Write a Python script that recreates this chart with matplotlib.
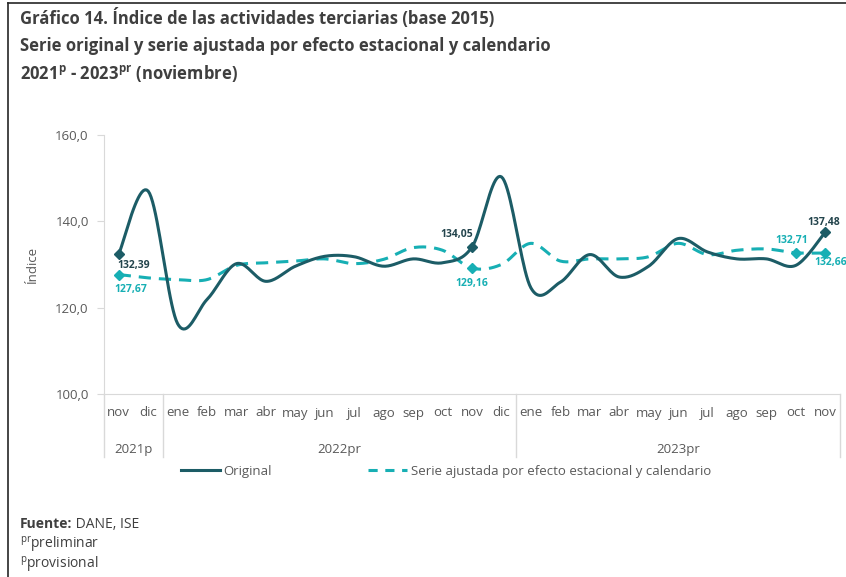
import numpy as np
import matplotlib
matplotlib.use('Agg')
from matplotlib import pyplot as plt
from matplotlib.lines import Line2D
import matplotlib.transforms as mtransforms

plt.rcParams['font.family'] = ['Open Sans', 'DejaVu Sans']
plt.rcParams['mathtext.fontset'] = 'custom'
plt.rcParams['mathtext.rm'] = 'Open Sans'
plt.rcParams['mathtext.bf'] = 'Open Sans:bold'

# datos
meses = ['nov', 'dic',
         'ene', 'feb', 'mar', 'abr', 'may', 'jun', 'jul', 'ago', 'sep', 'oct', 'nov', 'dic',
         'ene', 'feb', 'mar', 'abr', 'may', 'jun', 'jul', 'ago', 'sep', 'oct', 'nov']
anios = ['2021p', '2022pr', '2023pr']
meses_por_anio = [2, 12, 11]

original = [132.39, 147.0,
            116.3, 121.9, 130.2, 126.1, 129.6, 131.9, 131.8, 129.6, 131.3, 130.4, 134.05, 150.3,
            124.6, 125.9, 132.3, 127.1, 129.6, 136.0, 132.9, 131.3, 131.3, 129.8, 137.48]
ajustada = [127.67, 126.9,
            126.5, 126.5, 129.8, 130.4, 130.8, 131.3, 130.2, 131.2, 133.9, 133.3, 129.16, 130.0,
            134.9, 130.8, 131.3, 131.3, 131.8, 134.9, 132.3, 133.3, 133.6, 132.71, 132.66]

# etiquetas (indice, texto, dx, dy en puntos)
etq_original = [(0, '132,39', 11, -8), (12, '134,05', -11, 9), (24, '137,48', -1, 7)]
etq_ajustada = [(0, '127,67', 9, -11), (12, '129,16', 0, -11), (23, '132,71', -3, 9), (24, '132,66', 4, -7)]

c_orig = '#1C5C66'
c_aj = '#17AFB4'
c_txt = '#595959'
c_gris = '#D9D9D9'


def suavizar(y, n=20):
    # curva tipo excel (catmull-rom -> bezier)
    y = np.asarray(y, float)
    x = np.arange(len(y), dtype=float)
    xs, ys = [], []
    for i in range(len(y) - 1):
        i0 = max(i - 1, 0)
        i3 = min(i + 2, len(y) - 1)
        p0 = np.array([x[i], y[i]])
        p3 = np.array([x[i + 1], y[i + 1]])
        c1 = p0 + (np.array([x[i + 1], y[i + 1]]) - np.array([x[i0], y[i0]])) / 6.0
        c2 = p3 - (np.array([x[i3], y[i3]]) - np.array([x[i], y[i]])) / 6.0
        t = np.linspace(0, 1, n, endpoint=(i == len(y) - 2))
        b = ((1 - t) ** 3)[:, None] * p0 + (3 * (1 - t) ** 2 * t)[:, None] * c1 \
            + (3 * (1 - t) * t ** 2)[:, None] * c2 + (t ** 3)[:, None] * p3
        xs.append(b[:, 0])
        ys.append(b[:, 1])
    return np.concatenate(xs), np.concatenate(ys)


fig = plt.figure(figsize=(8.46, 5.77), dpi=100)
ax = fig.add_axes([104 / 846, 1 - 394 / 577, 736 / 846, 259 / 577])

xo, yo = suavizar(original)
xa, ya = suavizar(ajustada)
ax.plot(xa, ya, color=c_aj, lw=2.2, ls=(0, (4, 2.6)), zorder=2)
ax.plot(xo, yo, color=c_orig, lw=2.2, zorder=3, solid_capstyle='round')

for i, t, dx, dy in etq_original:
    ax.plot(i, original[i], marker='D', ms=5, color=c_orig, zorder=4, clip_on=False)
    ax.annotate(t, (i, original[i]), xytext=(dx, dy), textcoords='offset points',
                ha='center', va='center', fontsize=7.5, fontweight='bold', color='#23444C')
for i, t, dx, dy in etq_ajustada:
    ax.plot(i, ajustada[i], marker='D', ms=5, color=c_aj, zorder=4, clip_on=False)
    ax.annotate(t, (i, ajustada[i]), xytext=(dx, dy), textcoords='offset points',
                ha='center', va='center', fontsize=7.5, fontweight='bold', color=c_aj,
                annotation_clip=False)

ax.set_xlim(-0.5, len(meses) - 0.5)
ax.set_ylim(100, 160)
ax.set_yticks([100, 120, 140, 160])
ax.set_yticklabels(['100,0', '120,0', '140,0', '160,0'], fontsize=9.5, color=c_txt)
ax.set_xticks(range(len(meses)))
ax.set_xticklabels(meses, fontsize=9.5, color=c_txt)
ax.tick_params(axis='x', length=0, pad=9)
ax.tick_params(axis='y', length=5, color=c_gris, pad=6)
ax.set_ylabel('Índice', fontsize=9.5, color=c_txt, labelpad=12)
for s in ['top', 'right']:
    ax.spines[s].set_visible(False)
ax.spines['left'].set_color(c_gris)
ax.spines['bottom'].set_color(c_gris)
ax.spines['left'].set_bounds(100, 160)

# caja de anios
trans = mtransforms.blended_transform_factory(ax.transData, ax.transAxes)
fondo = -(457 - 394) / 259
ax.plot([-0.5, -0.5], [0, fondo], transform=trans, color=c_gris, lw=1, clip_on=False)
ini = -0.5
for a, n in zip(anios, meses_por_anio):
    fin = ini + n
    ax.plot([fin, fin], [0, fondo], transform=trans, color=c_gris, lw=1, clip_on=False)
    ax.text((ini + fin) / 2, -(449 - 394) / 259, a, transform=trans, ha='center', va='center',
            fontsize=9.5, color=c_txt)
    ini = fin

# leyenda
h = [Line2D([], [], color=c_orig, lw=2.2),
     Line2D([], [], color=c_aj, lw=2.2, ls=(0, (3, 2.5)))]
fig.legend(h, ['Original', 'Serie ajustada por efecto estacional y calendario'],
           loc='center', bbox_to_anchor=(446 / 846, 1 - 471 / 577), ncol=2, frameon=False,
           fontsize=9.5, labelcolor=c_txt, handlelength=2.9, handletextpad=0.3,
           columnspacing=7.3)

# titulo
c_tit = '#3F3F3F'
fig.text(20 / 846, 1 - 18 / 577, 'Gráfico 14. Índice de las actividades terciarias (base 2015)',
         fontsize=12, fontweight='bold', color=c_tit, va='center')
fig.text(20 / 846, 1 - 46 / 577, 'Serie original y serie ajustada por efecto estacional y calendario',
         fontsize=12, fontweight='bold', color=c_tit, va='center')
fig.text(20 / 846, 1 - 73 / 577, r'2021$^{\mathbf{p}}$ - 2023$^{\mathbf{pr}}$ (noviembre)',
         fontsize=12, fontweight='bold', color=c_tit, va='center')

# fuente
t1 = fig.text(20 / 846, 1 - 524 / 577, 'Fuente:', fontsize=10, fontweight='bold', color=c_tit,
              va='center')
ax.annotate(' DANE, ISE', xy=(1, 0.5), xycoords=t1, va='center', ha='left', fontsize=10,
            color=c_tit, annotation_clip=False)
fig.text(20 / 846, 1 - 545 / 577, r'$^{\mathrm{pr}}$preliminar', fontsize=10, color=c_tit, va='center')
fig.text(20 / 846, 1 - 565 / 577, r'$^{\mathrm{p}}$provisional', fontsize=10, color=c_tit, va='center')

# marco
fig.add_artist(Line2D([8 / 846, 8 / 846], [0, 1 - 3 / 577], color='#262626', lw=1.2))
fig.add_artist(Line2D([8 / 846, 1], [1 - 3 / 577, 1 - 3 / 577], color='#262626', lw=1.2))

fig.savefig('out.png', dpi=100)
